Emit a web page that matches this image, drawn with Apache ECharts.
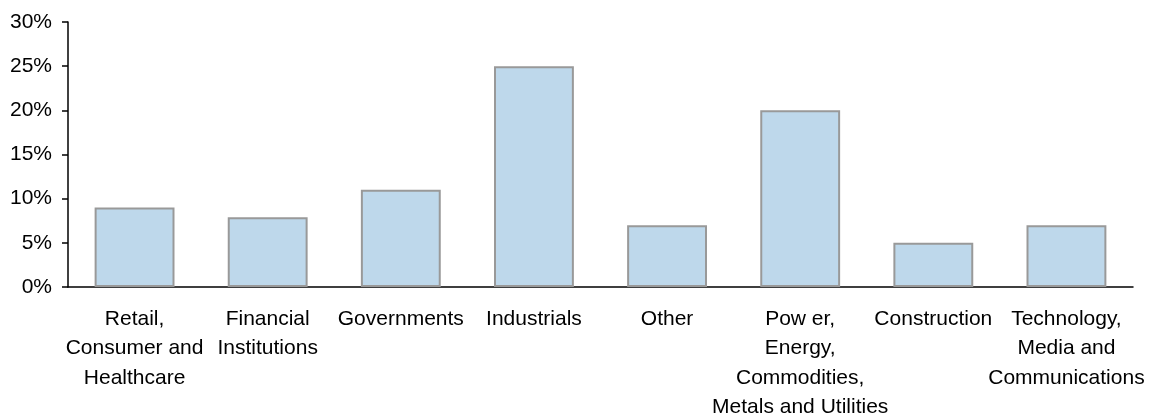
<!DOCTYPE html>
<html>
<head>
<meta charset="utf-8">
<script src="https://cdn.jsdelivr.net/npm/echarts@6/dist/echarts.min.js"></script>
<style>
  html, body { margin: 0; padding: 0; background: #fff; }
  #chart { width: 1155px; height: 419px; }
</style>
</head>
<body>
<div id="chart"></div>
<script>
// Sector categories (line breaks follow the wrapped axis labels)
const categories = [
  'Retail,\nConsumer and\nHealthcare',
  'Financial\nInstitutions',
  'Governments',
  'Industrials',
  'Other',
  'Pow er,\nEnergy,\nCommodities,\nMetals and Utilities',
  'Construction',
  'Technology,\nMedia and\nCommunications'
];

// Share of total, in percent
const shares = [9, 7.9, 11, 25, 7, 20, 5, 7];

// Value axis range and step, in percent
const yMin = 0;
const yMax = 30;
const yStep = 5;

const chart = echarts.init(document.getElementById('chart'));
const font = '"Liberation Sans", Arial, sans-serif';

chart.setOption({
  animation: false,
  grid: {
    left: 68, right: 22, top: 22, bottom: 132,
    containLabel: false,
    outerBoundsMode: 'none'
  },
  xAxis: {
    type: 'category',
    data: categories,
    axisTick: { show: false },
    axisLine: { lineStyle: { color: '#000', width: 1.5 } },
    axisLabel: {
      interval: 0,
      margin: 17,
      color: '#000',
      fontFamily: font,
      fontSize: 21,
      lineHeight: 29.5,
      align: 'center'
    }
  },
  yAxis: {
    type: 'value',
    min: yMin,
    max: yMax,
    interval: yStep,
    splitLine: { show: false },
    axisLine: { show: true, lineStyle: { color: '#000', width: 1.5 } },
    axisTick: { show: true, inside: false, length: 6, lineStyle: { color: '#000', width: 1.5 } },
    axisLabel: {
      margin: 16,
      color: '#000',
      fontFamily: font,
      fontSize: 21,
      formatter: v => v + '%'
    }
  },
  series: [{
    type: 'bar',
    data: shares,
    barWidth: '60%',
    itemStyle: {
      color: '#BED8EB',
      borderColor: '#999999',
      borderWidth: 2
    }
  }]
});
</script>
</body>
</html>
